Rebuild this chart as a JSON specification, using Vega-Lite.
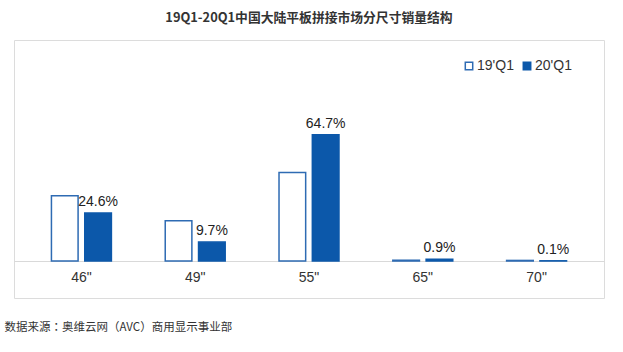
{
  "$schema": "https://vega.github.io/schema/vega-lite/v6.json",
  "width": 590,
  "height": 258,
  "autosize": "none",
  "padding": {"left": 14, "top": 40, "right": 19, "bottom": 54},
  "background": "white",
  "title": {
    "text": "19Q1-20Q1中国大陆平板拼接市场分尺寸销量结构",
    "font": "Noto Sans CJK SC",
    "fontSize": 12.8,
    "fontWeight": "bold",
    "color": "#333333",
    "anchor": "middle",
    "frame": "group",
    "offset": 15
  },
  "config": {
    "view": {"stroke": "#dcdcdc", "strokeWidth": 1}
  },
  "data": {
    "values": [
      {"size": "46\"", "series": "19'Q1", "value": 33.4, "label": "33.4%"},
      {"size": "46\"", "series": "20'Q1", "value": 24.6, "label": "24.6%"},
      {"size": "49\"", "series": "19'Q1", "value": 20.6, "label": "20.6%"},
      {"size": "49\"", "series": "20'Q1", "value": 9.7, "label": "9.7%"},
      {"size": "55\"", "series": "19'Q1", "value": 45.4, "label": "45.4%"},
      {"size": "55\"", "series": "20'Q1", "value": 64.7, "label": "64.7%"},
      {"size": "65\"", "series": "19'Q1", "value": 0.4, "label": "0.4%"},
      {"size": "65\"", "series": "20'Q1", "value": 0.9, "label": "0.9%"},
      {"size": "70\"", "series": "19'Q1", "value": 0.3, "label": "0.3%"},
      {"size": "70\"", "series": "20'Q1", "value": 0.1, "label": "0.1%"}
    ]
  },
  "encoding": {
    "x": {
      "field": "size",
      "type": "nominal",
      "sort": ["46\"", "49\"", "55\"", "65\"", "70\""],
      "scale": {"paddingInner": 0.473, "paddingOuter": 0.329},
      "axis": {
        "offset": -37,
        "domainColor": "#d9d9d9",
        "domainWidth": 1,
        "ticks": false,
        "labelPadding": 9,
        "labelAngle": 0,
        "labelFont": "Liberation Sans",
        "labelFontSize": 14,
        "labelColor": "#333333",
        "title": "数据来源：奥维云网（AVC）商用显示事业部",
        "titleFont": "Noto Sans CJK TC",
        "titleFontSize": 11.5,
        "titleFontWeight": "normal",
        "titleColor": "#333333",
        "titleX": -10,
        "titleY": 69,
        "titleAlign": "left",
        "titleBaseline": "alphabetic"
      }
    },
    "xOffset": {
      "field": "series",
      "type": "nominal",
      "sort": ["19'Q1", "20'Q1"],
      "scale": {"paddingInner": 0.2, "paddingOuter": 0}
    },
    "y": {
      "field": "value",
      "type": "quantitative",
      "scale": {"domain": [-18.97, 113.33], "zero": false, "nice": false},
      "axis": null
    }
  },
  "layer": [
    {
      "mark": {"type": "bar", "strokeWidth": 1.5},
      "encoding": {
        "y2": {"datum": 0},
        "fill": {
          "field": "series",
          "type": "nominal",
          "sort": ["19'Q1", "20'Q1"],
          "scale": {"domain": ["19'Q1", "20'Q1"], "range": ["#ffffff", "#0c58aa"]},
          "legend": {
            "orient": "none",
            "legendX": 448,
            "legendY": 19,
            "direction": "horizontal",
            "title": null,
            "symbolType": "square",
            "symbolSize": 55,
            "symbolStrokeColor": "#2e6bb3",
            "symbolStrokeWidth": 1.5,
            "labelFont": "Liberation Sans",
            "labelFontSize": 14,
            "labelColor": "#333333",
            "labelOffset": 1,
            "columnPadding": 6
          }
        },
        "stroke": {
          "field": "series",
          "type": "nominal",
          "scale": {"domain": ["19'Q1", "20'Q1"], "range": ["#2e6bb3", "#0c58aa"]},
          "legend": null
        }
      }
    },
    {
      "transform": [{"filter": "datum.series === \"20'Q1\""}],
      "mark": {
        "type": "text",
        "dy": -7,
        "baseline": "alphabetic",
        "font": "Liberation Sans",
        "fontSize": 14,
        "color": "#222222"
      },
      "encoding": {
        "text": {"field": "label", "type": "nominal"}
      }
    }
  ]
}
